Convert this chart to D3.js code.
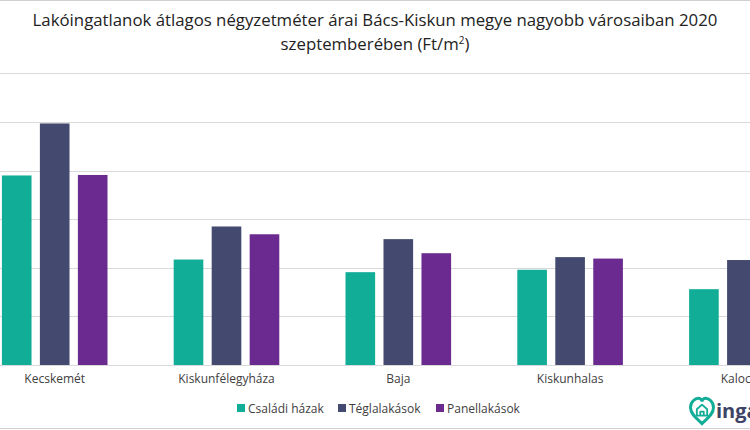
<!DOCTYPE html>
<html>
<head>
<meta charset="utf-8">
<script src="https://cdn.jsdelivr.net/npm/d3@7"></script>
<style>
  body { margin: 0; background: #fff; overflow: hidden; }
  svg { display: block; font-family: "Open Sans", "DejaVu Sans", sans-serif; }
</style>
</head>
<body>
<div id="chart"></div>
<script>
// data (Ft/m2)
var cities = ["Kecskemét", "Kiskunfélegyháza", "Baja", "Kiskunhalas", "Kalocsa"];
var seriesNames = ["Családi házak", "Téglalakások", "Panellakások"];
var csaladiHazak = [390000, 217000, 191000, 196000, 156000];
var teglaLakasok = [497000, 285000, 259000, 222000, 216000];
var panelLakasok = [391000, 269000, 230000, 219000, 205000];
var yTicks = [0, 100000, 200000, 300000, 400000, 500000, 600000];
var colors = ["#12ad97", "#444a6f", "#6a2a90"];

var width = 750, height = 430;
var svg = d3.select("#chart").append("svg")
    .attr("width", width)
    .attr("height", height);

// frame lines top and bottom
svg.append("line").attr("x1", 0).attr("x2", width).attr("y1", 0.5).attr("y2", 0.5)
    .style("stroke", "#d0d0d0").style("stroke-width", 1);
svg.append("line").attr("x1", 0).attr("x2", width).attr("y1", 428.5).attr("y2", 428.5)
    .style("stroke", "#d0d0d0").style("stroke-width", 1);

//scales (the picture is a crop, so the first band starts left of the frame)
var step = 171.8;
var x0 = d3.scaleBand().domain(cities).range([-31.2, -31.2 + step * cities.length]).padding(0);
var x1 = d3.scaleBand().domain(seriesNames).range([-52.8, 52.8]).paddingInner(0.22).paddingOuter(0);
var y = d3.scaleLinear().domain([0, 600000]).range([365, 73.4]);

//gridlines
svg.append("g").selectAll("line")
    .data(yTicks)
    .enter().append("line")
    .attr("x1", 0).attr("x2", width)
    .attr("y1", function(d){ return Math.round(y(d)) + 0.5; })
    .attr("y2", function(d){ return Math.round(y(d)) + 0.5; })
    .style("stroke", "#d9d9d9")
    .style("stroke-width", 1);

var rows = cities.map(function(c, i){
    return { city: c, values: [csaladiHazak[i], teglaLakasok[i], panelLakasok[i]] };
});

var groups = svg.append("g").selectAll("g")
    .data(rows)
    .enter().append("g")
    .attr("transform", function(d){ return "translate(" + (x0(d.city) + x0.bandwidth() / 2) + ",0)"; });

groups.selectAll("rect")
    .data(function(d){ return d.values.map(function(v, j){ return { name: seriesNames[j], value: v, idx: j }; }); })
    .enter().append("rect")
    .attr("x", function(d){ return x1(d.name); })
    .attr("width", x1.bandwidth())
    .attr("y", function(d){ return y(d.value); })
    .attr("height", function(d){ return y(0) - y(d.value); })
    .style("fill", function(d){ return colors[d.idx]; });

//category labels
var xAxis = d3.axisBottom(x0).tickSize(0).tickPadding(9);
var axisG = svg.append("g")
    .attr("transform", "translate(0," + y(0) + ")")
    .call(xAxis);
axisG.select(".domain").remove();
axisG.selectAll("text")
    .style("font-size", "12px")
    .style("fill", "#404040")
    .style("font-family", "'Open Sans', sans-serif");

//title
var title = svg.append("text")
    .attr("x", 375)
    .attr("text-anchor", "middle")
    .style("font-size", "16.8px")
    .style("fill", "#222");
title.append("tspan").attr("x", 375).attr("y", 26)
    .text("Lakóingatlanok átlagos négyzetméter árai Bács-Kiskun megye nagyobb városaiban 2020");
var line2 = title.append("tspan").attr("x", 375).attr("y", 50).text("szeptemberében  (Ft/m");
line2.append("tspan").attr("dy", -6).style("font-size", "10px").text("2");
line2.append("tspan").attr("dy", 6).text(")");

//legend
var legendX = [237, 338, 436];
var legend = svg.append("g").selectAll("g")
    .data(seriesNames)
    .enter().append("g")
    .attr("transform", function(d, i){ return "translate(" + legendX[i] + ",404)"; });
legend.append("rect")
    .attr("width", 8).attr("height", 8)
    .style("fill", function(d, i){ return colors[i]; });
legend.append("text")
    .attr("x", 11).attr("y", 8.5)
    .style("font-size", "12px")
    .style("fill", "#404040")
    .text(function(d){ return d; });

//logo
var logo = svg.append("g").attr("transform", "translate(702,411) scale(1.15)");
logo.append("path")
    .attr("d", "M0,11 C-4,7 -10,3 -10,-3 C-10,-8 -6,-11 -3,-11 C-1,-11 0,-9.5 0,-8 C0,-9.5 1,-11 3,-11 C6,-11 10,-8 10,-3 C10,3 4,7 0,11 Z")
    .style("fill", "none")
    .style("stroke", "#12ad97")
    .style("stroke-width", 2.6);
logo.append("path")
    .attr("d", "M-4.5,4 L-4.5,-1.5 L0,-5.5 L4.5,-1.5 L4.5,4 Z M-1.5,4 L-1.5,0.5 L1.5,0.5 L1.5,4")
    .style("fill", "none")
    .style("stroke", "#12ad97")
    .style("stroke-width", 1.6)
    .style("stroke-linejoin", "round");
svg.append("text")
    .attr("x", 716).attr("y", 418)
    .style("font-size", "20px")
    .style("font-weight", "bold")
    .style("fill", "#3d4466")
    .style("font-family", "'Open Sans', sans-serif")
    .text("ingatlan.com");
</script>
</body>
</html>
